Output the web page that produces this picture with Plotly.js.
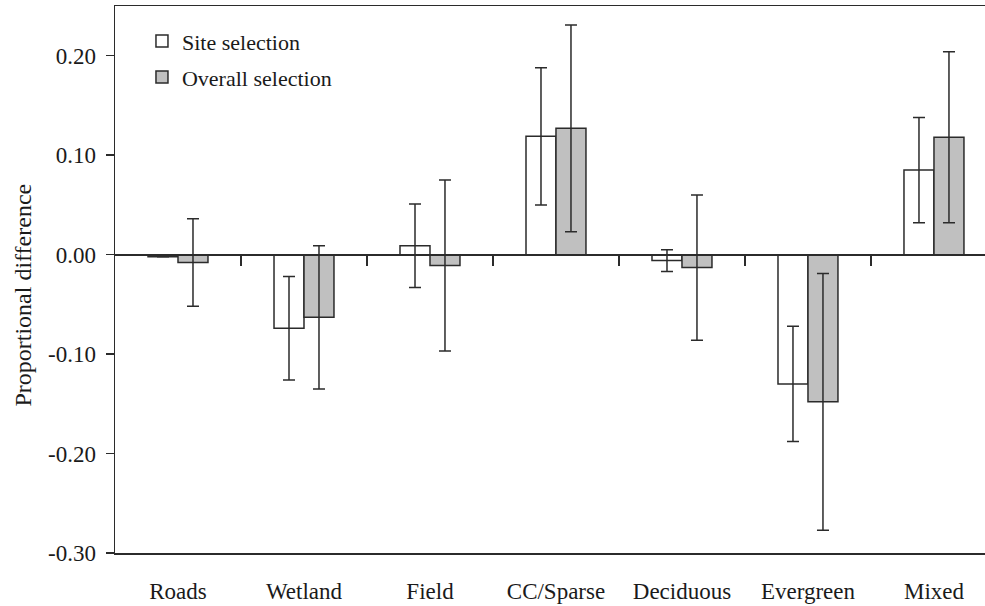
<!DOCTYPE html>
<html>
<head>
<meta charset="utf-8">
<script src="https://cdn.plot.ly/plotly-3.0.1.min.js"></script>
<style>html,body{margin:0;padding:0;background:#fff;}#chart{width:985px;height:606px;}</style>
</head>
<body>
<div id="chart"></div>
<script>
const categories = ["Roads", "Wetland", "Field", "CC/Sparse", "Deciduous", "Evergreen", "Mixed"];
const siteValues = [-0.002, -0.074, 0.009, 0.119, -0.006, -0.130, 0.085];
const siteErrors = [0.000, 0.052, 0.042, 0.069, 0.011, 0.058, 0.053];
const overallValues = [-0.008, -0.063, -0.011, 0.127, -0.013, -0.148, 0.118];
const overallErrors = [0.044, 0.072, 0.086, 0.104, 0.073, 0.129, 0.086];
const yTickVals = [-0.30, -0.20, -0.10, 0.00, 0.10, 0.20];
const yTickText = ["-0.30", "-0.20", "-0.10", "0.00", "0.10", "0.20"];
const seriesNames = ["Site selection", "Overall selection"];
const groupBoundaries = [0.5, 1.5, 2.5, 3.5, 4.5, 5.5];
const yTitle = "Proportional difference";

const yRange = [-0.30, 0.25];
const xRange = [-0.5, 6.405];
const ink = "#2b2b2b";
const serif = "Liberation Serif, Times New Roman, serif";

const traces = [
  {
    type: "bar", name: seriesNames[0], x: categories, y: siteValues,
    marker: {color: "#ffffff", line: {color: ink, width: 1.5}},
    error_y: {type: "data", array: siteErrors, visible: true, color: ink, thickness: 1.5, width: 6},
    legend: "legend"
  },
  {
    type: "bar", name: seriesNames[1], x: categories, y: overallValues,
    marker: {color: "#c0c0c0", line: {color: ink, width: 1.5}},
    error_y: {type: "data", array: overallErrors, visible: true, color: ink, thickness: 1.5, width: 6},
    legend: "legend2"
  },
  {
    type: "scatter", mode: "markers", x: [], y: [], xaxis: "x2", yaxis: "y",
    showlegend: false, hoverinfo: "skip"
  }
];

const zeroPos = (0 - yRange[0]) / (yRange[1] - yRange[0]);

const layout = {
  width: 985, height: 606,
  margin: {l: 115, r: 0, t: 6, b: 53, pad: 0},
  paper_bgcolor: "#ffffff", plot_bgcolor: "#ffffff",
  font: {family: serif, size: 22, color: "#1a1a1a"},
  barmode: "group", bargap: 0.524, bargroupgap: 0,
  showlegend: true,
  legend: {
    x: 0.031, y: 0.974, xanchor: "left", yanchor: "top",
    bgcolor: "rgba(0,0,0,0)", borderwidth: 0,
    font: {family: serif, size: 22, color: "#1a1a1a"}
  },
  legend2: {
    x: 0.031, y: 0.908, xanchor: "left", yanchor: "top",
    bgcolor: "rgba(0,0,0,0)", borderwidth: 0,
    font: {family: serif, size: 22, color: "#1a1a1a"}
  },
  xaxis: {
    type: "category", range: xRange,
    showline: true, linecolor: ink, linewidth: 1.5, mirror: true,
    ticks: "", showgrid: false, zeroline: false,
    tickfont: {family: serif, size: 23, color: "#1a1a1a"},
    ticklabelstandoff: 17
  },
  xaxis2: {
    overlaying: "x", anchor: "free", position: zeroPos, side: "bottom",
    type: "linear", range: xRange,
    showline: true, linecolor: ink, linewidth: 1.5,
    ticks: "outside", ticklen: 10, tickwidth: 1.5, tickcolor: ink,
    tickmode: "array", tickvals: groupBoundaries, showticklabels: false,
    showgrid: false, zeroline: false
  },
  yaxis: {
    range: yRange,
    showline: true, linecolor: ink, linewidth: 1.5,
    ticks: "outside", ticklen: 8, tickwidth: 1.5, tickcolor: ink,
    tickmode: "array", tickvals: yTickVals, ticktext: yTickText,
    tickfont: {family: serif, size: 23, color: "#1a1a1a"},
    ticklabelstandoff: 5,
    showgrid: false, zeroline: true, zerolinecolor: ink, zerolinewidth: 1.5
  },
  annotations: [
    {
      text: yTitle, xref: "paper", yref: "paper", x: -0.106, y: 0.472,
      xanchor: "center", yanchor: "middle", textangle: -90, showarrow: false,
      font: {family: serif, size: 24, color: "#1a1a1a"}
    }
  ]
};

Plotly.newPlot("chart", traces, layout, {staticPlot: true, displayModeBar: false});
</script>
</body>
</html>
